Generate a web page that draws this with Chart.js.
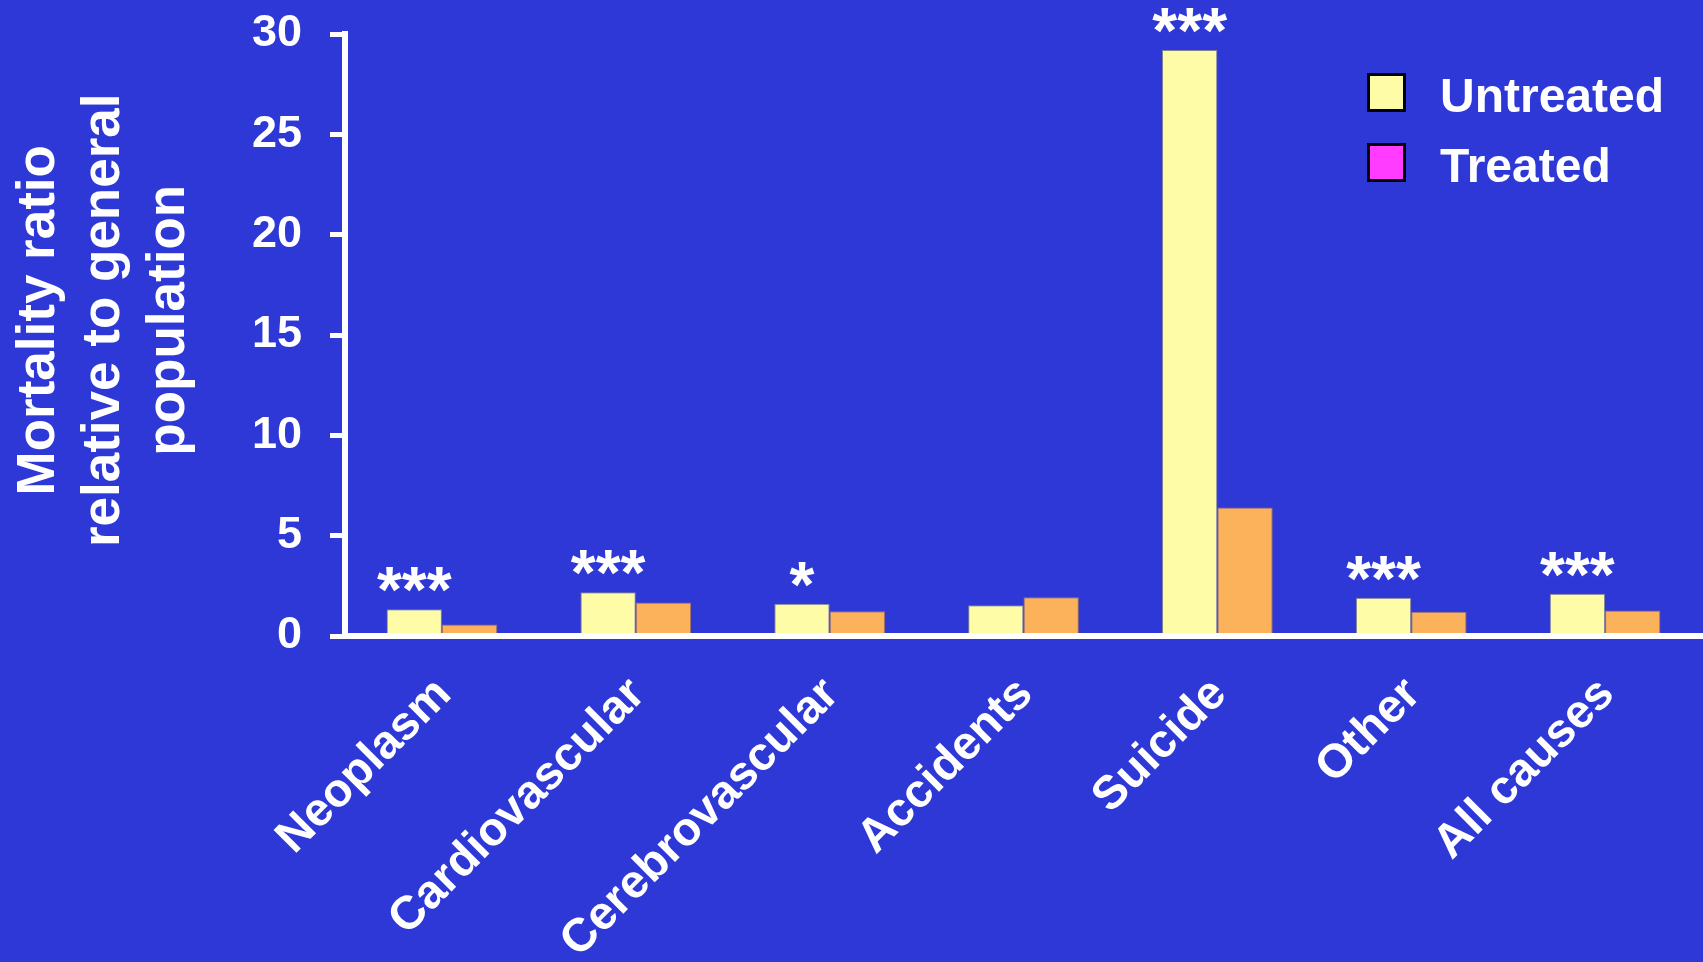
<!DOCTYPE html>
<html>
<head>
<meta charset="utf-8">
<script src="https://cdn.jsdelivr.net/npm/chart.js@4/dist/chart.umd.min.js"></script>
<style>
  html, body { margin: 0; padding: 0; background: #2E38D6; }
  #c { display: block; }
</style>
</head>
<body>
<canvas id="c" width="1703" height="962"></canvas>
<script>
// ---- data ----
const categories = ['Neoplasm', 'Cardiovascular', 'Cerebrovascular', 'Accidents', 'Suicide', 'Other', 'All causes'];
const untreatedValues = [1.33, 2.18, 1.61, 1.53, 29.2, 1.91, 2.10];
const treatedValues = [0.57, 1.67, 1.23, 1.93, 6.4, 1.21, 1.27];
const significance = ['***', '***', '*', '', '***', '***', '***'];
const seriesNames = ['Untreated', 'Treated'];
const yTickValues = [0, 5, 10, 15, 20, 25, 30];
const yTitleLines = ['Mortality ratio', 'relative to general', 'population'];

const FONT = "'Liberation Sans', Arial, Helvetica, sans-serif";
const WHITE = '#FFFFFF';
const YELLOW = '#FFFCA8';
const ORANGE = '#FCB25A';
const MAGENTA = '#FF3CFF';

// significance stars over the untreated bars
const starsPlugin = {
  id: 'stars',
  afterDatasetsDraw(chart) {
    const meta = chart.getDatasetMeta(0);
    const ctx = chart.ctx;
    ctx.save();
    ctx.fillStyle = WHITE;
    ctx.font = "bold 64px " + FONT;
    ctx.textAlign = 'center';
    ctx.textBaseline = 'alphabetic';
    meta.data.forEach((bar, i) => {
      const s = significance[i];
      if (!s) return;
      ctx.fillText(s, bar.x, bar.y + 3);
    });
    ctx.restore();
  }
};

// legend box (top right, as in the original slide)
const legendPlugin = {
  id: 'slideLegend',
  afterDraw(chart) {
    const ctx = chart.ctx;
    const ds = chart.data.datasets;
    const boxX = 1367, textX = 1440;
    const rows = [112, 182];
    ctx.save();
    ctx.font = "bold 48px " + FONT;
    ctx.textAlign = 'left';
    ctx.textBaseline = 'alphabetic';
    ds.forEach((d, i) => {
      const base = rows[i];
      ctx.fillStyle = d.legendColor;
      ctx.fillRect(boxX, base - 39, 39, 39);
      ctx.lineWidth = 3;
      ctx.strokeStyle = '#000000';
      ctx.strokeRect(boxX + 1.5, base - 37.5, 36, 36);
      ctx.fillStyle = WHITE;
      ctx.fillText(d.label, textX, base);
    });
    ctx.restore();
  }
};

new Chart(document.getElementById('c'), {
  type: 'bar',
  data: {
    labels: categories,
    datasets: [
      {
        label: seriesNames[0],
        data: untreatedValues,
        backgroundColor: YELLOW,
        borderColor: 'rgba(150,150,130,0.8)',
        borderWidth: 1,
        legendColor: YELLOW
      },
      {
        label: seriesNames[1],
        data: treatedValues,
        backgroundColor: ORANGE,
        borderColor: 'rgba(190,130,70,0.8)',
        borderWidth: 1,
        legendColor: MAGENTA
      }
    ]
  },
  options: {
    responsive: false,
    devicePixelRatio: 1,
    animation: false,
    layout: { padding: { top: 34, right: 1, bottom: 0, left: 0 } },
    datasets: {
      bar: { categoryPercentage: 0.571, barPercentage: 1.0 }
    },
    plugins: {
      legend: { display: false },
      tooltip: { enabled: false }
    },
    scales: {
      x: {
        grid: { display: false, drawTicks: false },
        border: { display: true, color: WHITE, width: 6, z: 1 },
        ticks: {
          color: WHITE,
          font: { family: FONT, size: 47, weight: 'bold', lineHeight: 1.2 },
          maxRotation: 45,
          minRotation: 45,
          autoSkip: false,
          padding: 31,
          labelOffset: 2
        },
        afterFit(scale) { scale.height = 326; }
      },
      y: {
        min: 0,
        max: 30,
        afterBuildTicks(scale) { scale.ticks = yTickValues.map(v => ({ value: v })); },
        grid: {
          drawOnChartArea: false,
          drawTicks: true,
          tickLength: 15,
          color: WHITE,
          lineWidth: 5
        },
        border: { display: true, color: WHITE, width: 6, z: 1 },
        ticks: {
          color: WHITE,
          font: { family: FONT, size: 45, weight: 'bold' },
          padding: 28
        },
        title: {
          display: true,
          text: yTitleLines.map(line => '\u00A0\u00A0' + line),
          color: WHITE,
          font: { family: FONT, size: 53, weight: 'bold', lineHeight: 1.2264 },
          padding: { top: 7, bottom: 0 }
        },
        afterFit(scale) {
          scale.width = 345;
          scale.paddingTop = 0;
          scale.paddingBottom = 0;
        }
      }
    }
  },
  plugins: [starsPlugin, legendPlugin]
});
</script>
</body>
</html>
